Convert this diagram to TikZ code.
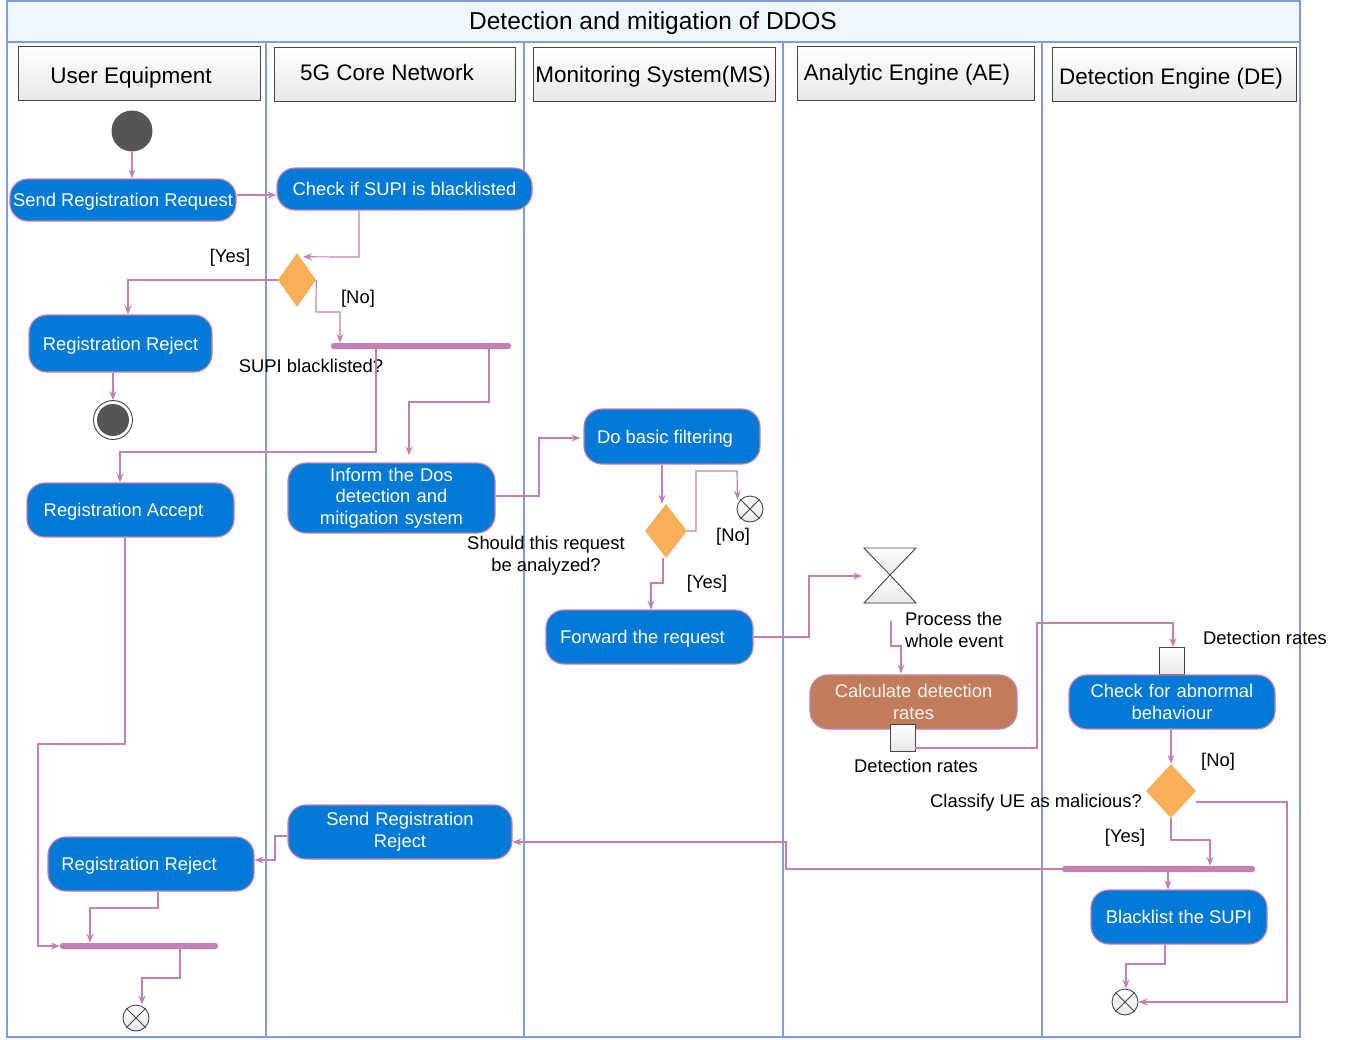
\documentclass[tikz,border=0pt]{standalone}
\usepackage{fontspec}
\setmainfont{Liberation Sans}
\usetikzlibrary{arrows.meta,shapes.geometric,calc}
\definecolor{lanec}{RGB}{126,157,218}
\definecolor{titlefill}{RGB}{238,246,255}
\definecolor{actc}{RGB}{0,122,214}
\definecolor{pinkc}{RGB}{196,128,180}
\definecolor{decc}{RGB}{249,174,88}
\definecolor{calcc}{RGB}{194,124,91}
\definecolor{darkc}{RGB}{85,85,85}
\definecolor{edgec}{RGB}{70,70,70}
\begin{document}
\begin{tikzpicture}[x=1pt,y=-1pt,
  every node/.style={font=\fontsize{18.4}{21.6}\selectfont, inner sep=0pt, text depth=0pt},
  lane/.style={draw=lanec, line width=1.5pt},
  hdr/.style={draw=edgec, line width=0.9pt, top color=white, bottom color=gray!18},
  hdrtxt/.style={font=\fontsize{22.5}{27}\selectfont},
  act/.style={draw=pinkc, line width=1.2pt, fill=actc, text=white, rounded corners=18pt, align=center},
  multi/.style={text depth=, text width=#1},
  calcact/.style={act, fill=calcc, text=white!92!calcc},
  decision/.style={shape=diamond, fill=decc, draw=none},
  bar/.style={fill=pinkc, draw=none, rounded corners=2.5pt, minimum height=6pt},
  startnode/.style={circle, fill=darkc, minimum size=41pt},
  pin/.style={draw=edgec, line width=0.9pt, top color=white, bottom color=gray!18, minimum width=25pt, minimum height=27pt},
  ffnode/.style={circle, draw=edgec, line width=0.9pt, top color=white, bottom color=gray!18, minimum size=26pt},
  lbl/.style={text=black, align=center},
  flow/.style={draw=pinkc, line width=1.2pt, -{Stealth[length=9pt,width=7pt,inset=3pt]}},
  hg/.style={draw=edgec, line width=0.9pt, top color=white, bottom color=gray!18}
]
\useasboundingbox (0,0) rectangle (1349,1039);
% frame and lanes
\filldraw[lane, fill=titlefill] (7,1) rectangle (1300,42);
\node[font=\fontsize{24.5}{29}\selectfont] (title) at (653,21) {Detection and mitigation of DDOS};
\draw[lane] (7,42) rectangle (1300,1037);
\foreach \xx in {266,524,783,1042} { \draw[lane] (\xx,42) -- (\xx,1037); }
% headers
\node[hdr, minimum width=242, minimum height=54] (hUE) at (139,73) {};
\node[hdr, minimum width=241, minimum height=54] (h5G) at (394.5,74) {};
\node[hdr, minimum width=242, minimum height=54] (hMS) at (654,74) {};
\node[hdr, minimum width=237, minimum height=54] (hAE) at (915.5,73) {};
\node[hdr, minimum width=244, minimum height=54] (hDE) at (1174,74) {};
\node[hdrtxt] (tUE) at (131,75) {User Equipment};
\node[hdrtxt] (t5G) at (387,72) {5G Core Network};
\node[hdrtxt] (tMS) at (653,74) {Monitoring System(MS)};
\node[hdrtxt] (tAE) at (907,72) {Analytic Engine (AE)};
\node[hdrtxt] (tDE) at (1171,76) {Detection Engine (DE)};

% UE lane
\node[startnode] (start) at (132,131) {};
\node[act, minimum width=226, minimum height=42] (sendreq) at (123,200) {Send Registration Request};
\node[act, minimum width=183, minimum height=57] (regrej1) at (120.5,343.5) {Registration Reject};
\node[circle, draw=edgec, line width=0.9pt, fill=white, minimum size=39pt] (endnode) at (113,420) {};
\node[circle, fill=darkc, minimum size=32pt] (endcore) at (113,420) {};
\node[act, minimum width=207, minimum height=54] (regacc) at (130.5,510) {Registration Accept\hspace{14pt}};
\node[act, minimum width=206, minimum height=54] (regrej2) at (151,864) {Registration Reject\hspace{24pt}};
\node[bar, minimum width=158] (join) at (139,946) {};
\node[ffnode] (ff3) at (136,1018) {};
\draw[edgec, line width=0.9pt] (ff3.north east) -- (ff3.south west) (ff3.north west) -- (ff3.south east);

% 5G lane
\node[act, minimum width=255, minimum height=42] (check) at (404.5,189) {Check if SUPI is blacklisted};
\node[decision, minimum width=38, minimum height=54] (dec1) at (297,280) {};
\node[bar, minimum width=180] (fork1) at (421,346) {};
\node[act, minimum width=207, minimum height=70, multi=190] (inform) at (391.5,498) {Inform the Dos\\detection and\\mitigation system};
\node[act, minimum width=224, minimum height=54, multi=200] (sendrej) at (400,832) {Send Registration\\Reject};

% MS lane
\node[act, minimum width=176, minimum height=55] (filt) at (672,436.5) {Do basic filtering\hspace{14pt}};
\node[decision, minimum width=42, minimum height=54] (dec2) at (666,531) {};
\node[ffnode] (ff1) at (750,509) {};
\draw[edgec, line width=0.9pt] (ff1.north east) -- (ff1.south west) (ff1.north west) -- (ff1.south east);
\node[act, minimum width=207, minimum height=54] (fwd) at (649.5,637) {Forward the request\hspace{14pt}};

% AE lane
\filldraw[hg] (864,548) -- (916,548) -- (890,575) -- cycle;
\filldraw[hg] (890,575) -- (916,603) -- (864,603) -- cycle;
\coordinate (hourW) at (862,576);
\coordinate (hourS) at (891,621);
\node[calcact, minimum width=207, minimum height=54, multi=190] (calc) at (913.5,702) {Calculate detection\\rates};
\node[pin] (pin1) at (902.5,737.5) {};

% DE lane
\node[pin] (pin2) at (1171.5,661) {};
\node[act, minimum width=206, minimum height=54, multi=190] (chk) at (1172,702) {Check for abnormal\\behaviour};
\node[decision, minimum width=50, minimum height=54] (dec3) at (1171,791) {};
\node[bar, minimum width=193] (fork2) at (1158.5,869) {};
\node[act, minimum width=176, minimum height=54] (black) at (1179,917) {Blacklist the SUPI};
\node[ffnode] (ff2) at (1125,1002) {};
\draw[edgec, line width=0.9pt] (ff2.north east) -- (ff2.south west) (ff2.north west) -- (ff2.south east);

% labels
\node[lbl] (l1) at (230,256) {[Yes]};
\node[lbl] (l2) at (358,297) {[No]};
\node[lbl] (l3) at (311,366) {SUPI blacklisted?};
\node[lbl] (l4) at (546,554) {Should this request\\be analyzed?};
\node[lbl] (l5) at (733,535) {[No]};
\node[lbl] (l6) at (707,582) {[Yes]};
\node[lbl, align=left, anchor=west] (l7) at (905,630) {Process the\\whole event};
\node[lbl] (l8) at (916,766) {Detection rates};
\node[lbl] (l9) at (1265,638) {Detection rates};
\node[lbl] (l10) at (1218,760) {[No]};
\node[lbl] (l11) at (1036,801) {Classify UE as malicious?};
\node[lbl] (l12) at (1125,836) {[Yes]};

% connectors
\draw[flow] (start.south) -- (start.south |- sendreq.north);
\draw[flow] (sendreq.east |- 0,195) -- (check.west |- 0,195);
\draw[flow] (check.south -| 359,0) -- (359,257) -- ([yshift=-4pt]dec1.north -| 303,0);
\draw[flow] (dec1.west) -| (regrej1.north -| 128,0);
\draw[flow] (dec1.east) -- (316,312) -| (fork1.north -| 340,0);
\draw[flow] (regrej1.south -| endnode.north) -- (endnode.north);
\draw[flow] (fork1.south -| 376,0) -- (376,452) -| (regacc.north -| 120,0);
\draw[flow] (fork1.south -| 489,0) -- (489,402) -| ([yshift=7pt]inform.north -| 409,0);
\draw[flow] (inform.east |- 0,496) -- (539,496) |- ([xshift=-3pt]filt.west |- 0,438);
\draw[flow] (filt.south -| 662,0) -- (dec2.north -| 662,0);
\draw[flow] (dec2.east) -- (696,531) |- (737,471) -- ([xshift=-3pt]ff1.north west);
\draw[flow] (dec2.south -| 663,0) -- (663,583) -| (fwd.north -| 651,0);
\draw[flow] (fwd.east) -- (809,637) |- (hourW);
\draw[flow] (hourS) -- (891,646) -| ([yshift=1pt]calc.north -| 901,0);
\draw[flow] (pin1.east |- 0,748) -- (1037,748) |- (1173,623) -- (pin2.north -| 1173,0);
\draw[flow] (chk.south -| dec3.north) -- (dec3.north);
\draw[flow] (dec3.south) -- (1171,840) -| (fork2.north -| 1210,0);
\draw[flow] (dec3.east |- 0,802) -- (1287,802) |- (ff2.east);
\draw[flow] (fork2.south -| 1168,0) -- (black.north -| 1168,0);
\draw[flow] (black.south -| 1165,0) -- (1165,964) -| (ff2.north -| 1126,0);
\draw[flow] (fork2.west) -- (786,869) |- (sendrej.east |- 0,842);
\draw[flow] (sendrej.west |- 0,836) -- (275,836) |- (regrej2.east |- 0,860);
\draw[flow] (regrej2.south -| 158,0) -- (158,908) -| (join.north -| 90,0);
\draw[flow] (regacc.south -| 125,0) -- (125,744) -- (38,744) |- (join.west);
\draw[flow] (join.south -| 180,0) -- (180,978) -| (ff3.north -| 142,0);
\end{tikzpicture}
\end{document}
